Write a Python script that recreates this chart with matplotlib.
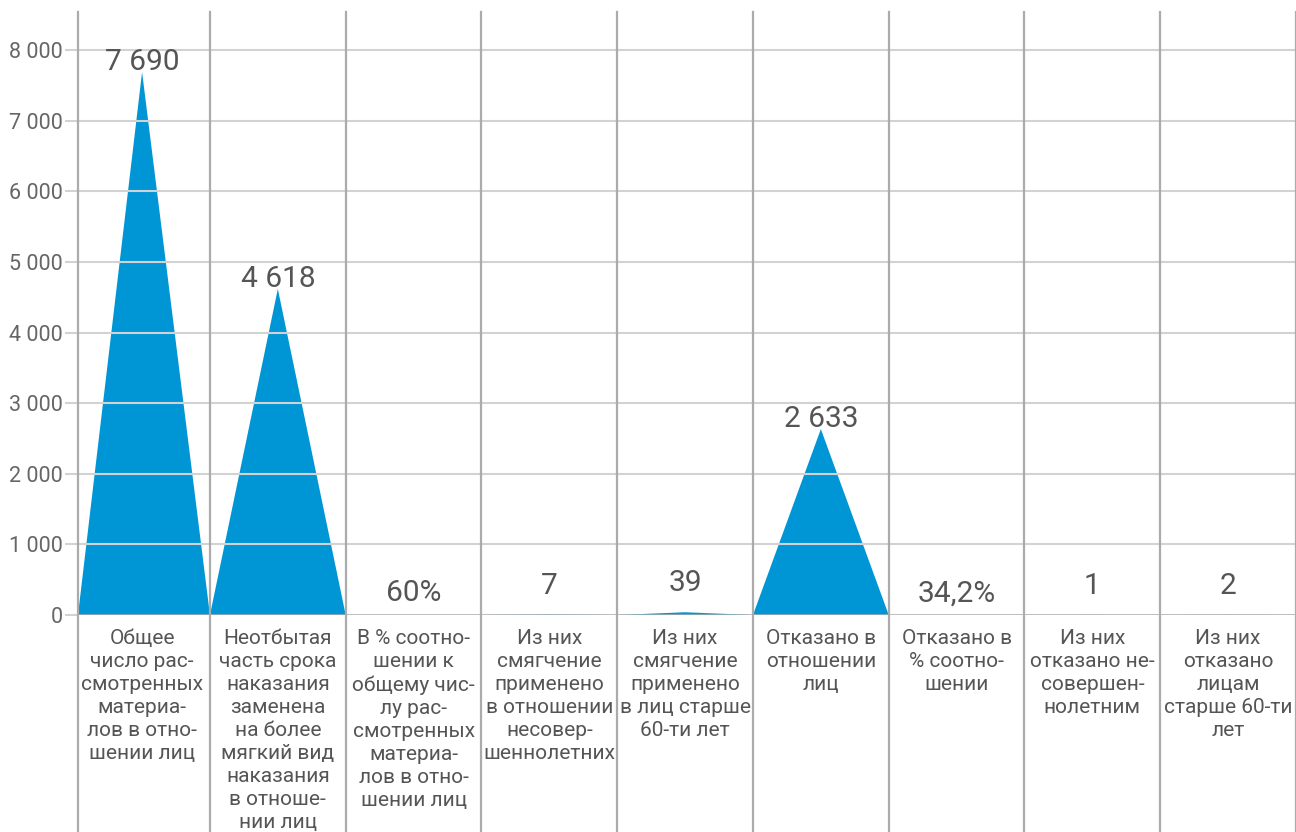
import matplotlib
matplotlib.use("Agg")
import matplotlib.pyplot as plt
import numpy as np

# Data
categories = [
    "Общее\nчисло рас-\nсмотренных\nматериа-\nлов в отно-\nшении лиц",
    "Неотбытая\nчасть срока\nнаказания\nзаменена\nна более\nмягкий вид\nнаказания\nв отноше-\nнии лиц",
    "В % соотно-\nшении к\nобщему чис-\nлу рас-\nсмотренных\nматериа-\nлов в отно-\nшении лиц",
    "Из них\nсмягчение\nприменено\nв отношении\nнесовер-\nшеннолетних",
    "Из них\nсмягчение\nприменено\nв лиц старше\n60-ти лет",
    "Отказано в\nотношении\nлиц",
    "Отказано в\n% соотно-\nшении",
    "Из них\nотказано не-\nсовершен-\nнолетним",
    "Из них\nотказано\nлицам\nстарше 60-ти\nлет",
]
# counts (None for the percentage columns, which have no peak)
counts = [7690, 4618, None, 7, 39, 2633, None, 1, 2]
value_labels = ["7 690", "4 618", "60%", "7", "39", "2 633", "34,2%", "1", "2"]
yticks = [0, 1000, 2000, 3000, 4000, 5000, 6000, 7000, 8000]
ytick_labels = ["0", "1 000", "2 000", "3 000", "4 000", "5 000", "6 000", "7 000", "8 000"]

BLUE = "#0096D6"
GRID = "#D2D2D2"
SEP = "#ABABAB"
TEXT = "#555555"
FONT = ["Roboto", "DejaVu Sans"]

plt.rcParams["font.family"] = FONT

W, H, DPI = 1296, 832, 100
fig = plt.figure(figsize=(W / DPI, H / DPI), dpi=DPI)
left_px, right_px, top_px, zero_px = 78, 1296, 12, 615
ax = fig.add_axes([left_px / W, 1 - zero_px / H,
                   (right_px - left_px) / W, (zero_px - top_px) / H])

n = len(categories)
x0 = 0.028  # first column is slightly narrower: it starts at the value axis
ax.set_xlim(x0, n)
ax.set_ylim(0, 8540)

# triangular peaks
for i, v in enumerate(counts):
    if v is None:
        continue
    ax.fill([max(i, x0), i + 0.5, i + 1], [0, v, 0], color=BLUE, lw=0, zorder=2)

# horizontal grid above the peaks
for t in yticks[1:]:
    ax.axhline(t, color=GRID, lw=1.5, zorder=3)
ax.axhline(0, color=SEP, lw=1.8, zorder=4)

# column separators, running down through the label area
for i in range(n + 1):
    ax.axvline(max(i, x0), ymin=-0.4, ymax=1, color=SEP, lw=1.6,
               clip_on=False, zorder=4)

for s in ax.spines.values():
    s.set_visible(False)

ax.set_xticks([])
ax.set_yticks(yticks)
ax.set_yticklabels(ytick_labels)
ax.tick_params(axis="y", length=9.4, width=1.5, color=GRID, pad=1.5,
               labelsize=15.5, labelcolor="#666666")
ax.get_yticklines()[0].set_color(SEP)

# value labels
for i, (v, lab) in enumerate(zip(counts, value_labels)):
    if v is None:
        y, off = 0, 10
    elif v < 300:
        y, off = v, 15
    else:
        y, off = v, 1.5
    ax.annotate(lab, xy=(i + 0.5, y), xytext=(0, off), textcoords="offset points",
                ha="center", va="baseline", fontsize=21.5, color=TEXT,
                zorder=5)

# category labels
for i, c in enumerate(categories):
    ax.text(i + 0.5, -0.023, c, transform=ax.get_xaxis_transform(),
            ha="center", va="top", fontsize=15, color=TEXT,
            linespacing=1.27, multialignment="center")

fig.savefig("out.png", dpi=DPI)
